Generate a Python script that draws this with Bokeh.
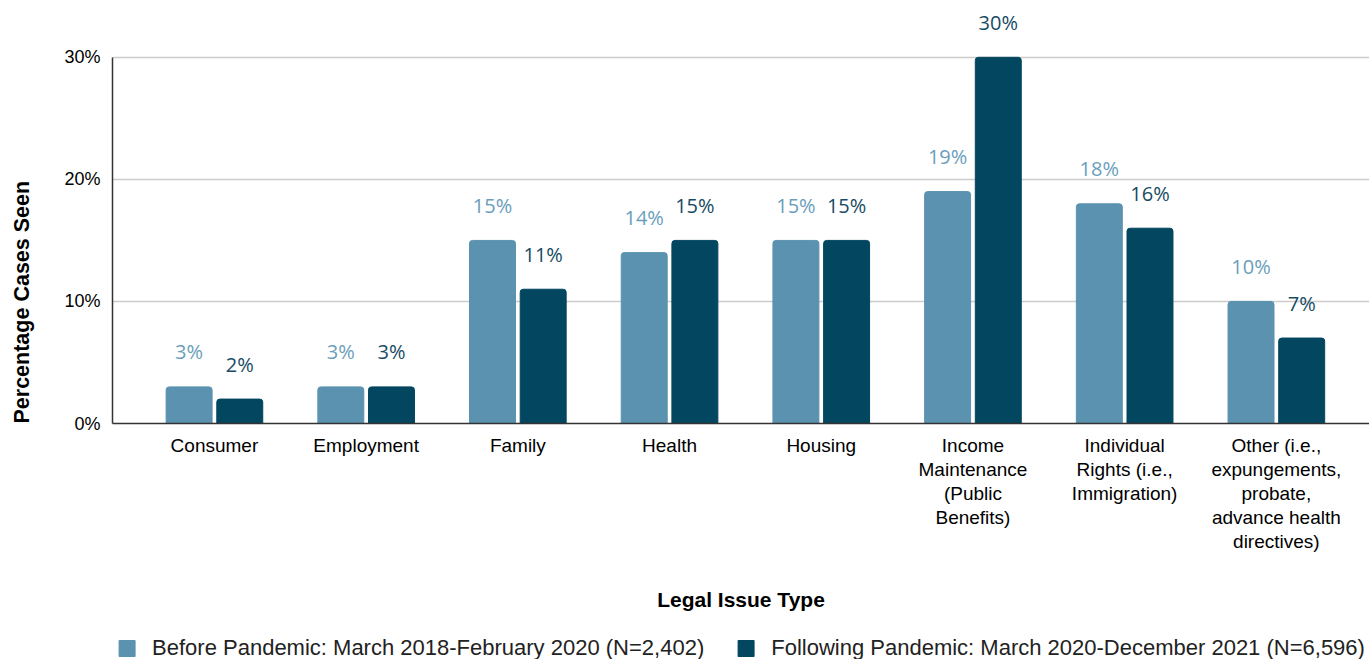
from bokeh.plotting import figure
from bokeh.layouts import column
from bokeh.models import (ColumnDataSource, Range1d, FixedTicker, LabelSet, Title,
                          Legend, LegendItem)
from bokeh.embed import file_html
from bokeh.resources import INLINE
from bokeh.core.properties import value

# ---- data ----
categories = ["Consumer", "Employment", "Family", "Health", "Housing",
              "Income Maintenance (Public Benefits)",
              "Individual Rights (i.e., Immigration)",
              "Other (i.e., expungements, probate, advance health directives)"]
tick_labels = ["Consumer", "Employment", "Family", "Health", "Housing",
               "Income\nMaintenance\n(Public\nBenefits)",
               "Individual\nRights (i.e.,\nImmigration)",
               "Other (i.e.,\nexpungements,\nprobate,\nadvance health\ndirectives)"]
before = [3, 3, 15, 14, 15, 19, 18, 10]
after = [2, 3, 11, 15, 15, 30, 16, 7]
y_ticks = [0, 10, 20, 30]
series_names = ["Before Pandemic: March 2018-February 2020 (N=2,402)",
                "Following Pandemic: March 2020-December 2021 (N=6,596)"]

C_BEFORE = "#5b92b0"
C_AFTER = "#03465f"
C_BEFORE_TXT = "#6a9ebb"
C_AFTER_TXT = "#174b64"

idx = list(range(len(categories)))
off = 0.167
bw = 0.303
src_b = ColumnDataSource(dict(x=[i - off for i in idx], top=before,
                              text=[f"{v}%" for v in before]))
src_a = ColumnDataSource(dict(x=[i + off for i in idx], top=after,
                              text=[f"{v}%" for v in after]))

p = figure(frame_width=1257, frame_height=415, output_backend="svg", toolbar_location=None,
           x_range=Range1d(-0.672, 7.614), y_range=Range1d(0, 34.0),
           min_border_left=112, min_border_right=0, min_border_top=8,
           min_border_bottom=213)
p.outline_line_color = None
p.background_fill_color = "white"

p.vbar(x="x", top="top", width=bw, bottom=0, source=src_b, color=C_BEFORE,
       border_radius=(3, 3, 0, 0))
p.vbar(x="x", top="top", width=bw, bottom=0, source=src_a, color=C_AFTER,
       border_radius=(3, 3, 0, 0))

for src, col in ((src_b, C_BEFORE_TXT), (src_a, C_AFTER_TXT)):
    p.add_layout(LabelSet(x="x", y="top", text="text", source=src, y_offset=35,
                          text_align="center", text_baseline="middle",
                          text_font=value("Open Sans"), text_font_size="20px",
                          text_color=col))

# axes
p.xaxis.ticker = FixedTicker(ticks=idx)
p.xaxis.major_label_overrides = {i: t for i, t in zip(idx, tick_labels)}
p.xaxis.major_label_text_font = "Liberation Sans"
p.xaxis.major_label_text_font_size = "19px"
p.xaxis.major_label_text_color = "#000000"
p.xaxis.major_label_text_line_height = 1.15
p.xaxis.major_label_standoff = 5
p.xaxis.major_tick_line_color = None
p.xaxis.minor_tick_line_color = None
p.xaxis.axis_line_color = "#333333"
p.xaxis.axis_line_width = 1.5
p.xaxis.axis_label = "Legal Issue Type"
p.xaxis.axis_label_text_font = "Liberation Sans"
p.xaxis.axis_label_text_font_style = "bold"
p.xaxis.axis_label_text_font_size = "21px"
p.xaxis.axis_label_text_color = "#000000"
p.xaxis.axis_label_standoff = 33

p.yaxis.ticker = FixedTicker(ticks=y_ticks)
p.yaxis.bounds = (0, 30)
p.yaxis.major_label_overrides = {v: f"{v}%" for v in y_ticks}
p.yaxis.major_label_text_font = "Liberation Sans"
p.yaxis.major_label_text_font_size = "18px"
p.yaxis.major_label_text_color = "#000000"
p.yaxis.major_label_standoff = 6
p.yaxis.major_tick_line_color = None
p.yaxis.minor_tick_line_color = None
p.yaxis.axis_line_color = "#333333"
p.yaxis.axis_line_width = 1.5
p.yaxis.axis_label = " "
p.yaxis.axis_label_text_font_size = "1px"
p.yaxis.axis_label_standoff = 12

p.xgrid.grid_line_color = None
p.ygrid.grid_line_color = "#cccccc"
p.ygrid.grid_line_width = 1.5

p.add_layout(Title(text="Percentage Cases Seen", align="left", offset=0, standoff=19,
                   vertical_align="top",
                   text_font="Liberation Sans", text_font_style="bold",
                   text_font_size="21.5px", text_color="#000000"), "left")

# ---- legend strip ----
lg = figure(width=1369, height=23, output_backend="svg", toolbar_location=None,
            x_range=Range1d(0, 1), y_range=Range1d(0, 1),
            x_axis_type=None, y_axis_type=None, min_border=0)
lg.outline_line_color = None
lg.grid.visible = False
# swatch renderers sit outside the visible range; only their legend glyphs show
lb = lg.vbar(x=[5], top=[1], width=0.1, color=C_BEFORE)
la = lg.vbar(x=[5], top=[1], width=0.1, color=C_AFTER)
legend = Legend(items=[LegendItem(label=series_names[0], renderers=[lb]),
                       LegendItem(label=series_names[1], renderers=[la])],
                orientation="horizontal", location="center",
                label_text_font="Liberation Sans", label_text_font_size="22px",
                label_text_color="#222222", glyph_width=20, glyph_height=20,
                label_height=22, label_standoff=16, spacing=31, padding=0, margin=0,
                border_line_color=None, background_fill_alpha=0)
lg.add_layout(legend)

open("out.html", "w").write(file_html(column(p, lg), INLINE))
